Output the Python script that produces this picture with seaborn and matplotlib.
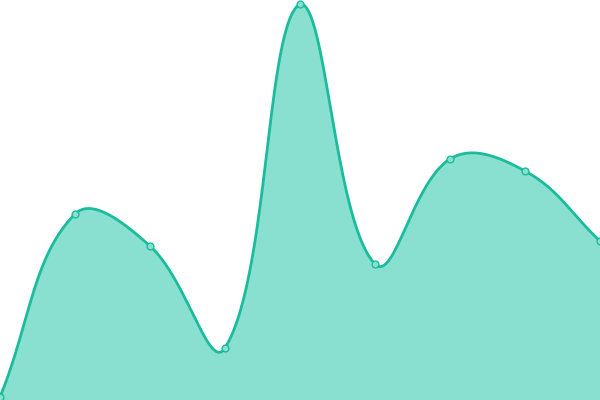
import numpy as np
import pandas as pd
import matplotlib
matplotlib.use("Agg")
import matplotlib.pyplot as plt
import seaborn as sns

# data (9 evenly spaced points)
x_vals = [0, 1, 2, 3, 4, 5, 6, 7, 8]
y_vals = [3, 186, 154, 52, 396, 136, 241, 229, 159]

LINE_COLOR = "#1abc9c"
FILL_COLOR = "#8ae0d0"
TENSION = 0.4
X_STEP_PX = 75.0  # one x step is 75 px wide, one y unit is 1 px


def spline_curve(xs, ys, tension=0.4, steps=60):
    # distance-weighted bezier smoothing (done in pixel space)
    px = np.asarray(xs, float) * X_STEP_PX
    py = np.asarray(ys, float)
    n = len(px)
    cp_prev = np.zeros((n, 2))
    cp_next = np.zeros((n, 2))
    for i in range(n):
        cur = np.array([px[i], py[i]])
        prev = np.array([px[max(i - 1, 0)], py[max(i - 1, 0)]])
        nxt = np.array([px[min(i + 1, n - 1)], py[min(i + 1, n - 1)]])
        d01 = np.hypot(*(cur - prev))
        d12 = np.hypot(*(nxt - cur))
        tot = d01 + d12
        s01 = d01 / tot if tot else 0
        s12 = d12 / tot if tot else 0
        cp_prev[i] = cur - tension * s01 * (nxt - prev)
        cp_next[i] = cur + tension * s12 * (nxt - prev)
    # keep control points inside the plot area
    cp_prev[:, 0] = np.clip(cp_prev[:, 0], 0, 600)
    cp_next[:, 0] = np.clip(cp_next[:, 0], 0, 600)
    cp_prev[:, 1] = np.clip(cp_prev[:, 1], 0, 400)
    cp_next[:, 1] = np.clip(cp_next[:, 1], 0, 400)

    t = np.linspace(0, 1, steps, endpoint=False)[:, None]
    pts = []
    for i in range(n - 1):
        p0 = np.array([px[i], py[i]])
        p3 = np.array([px[i + 1], py[i + 1]])
        p1, p2 = cp_next[i], cp_prev[i + 1]
        b = ((1 - t) ** 3) * p0 + 3 * ((1 - t) ** 2) * t * p1 \
            + 3 * (1 - t) * t ** 2 * p2 + t ** 3 * p3
        pts.append(b)
    pts.append(np.array([[px[-1], py[-1]]]))
    pts = np.vstack(pts)
    return pts[:, 0] / X_STEP_PX, pts[:, 1]


sns.set_theme(style="white")

df = pd.DataFrame({"x": x_vals, "y": y_vals})
cx, cy = spline_curve(df["x"], df["y"], tension=TENSION)
curve = pd.DataFrame({"x": cx, "y": cy})

fig = plt.figure(figsize=(6, 4), dpi=100)
ax = fig.add_axes([0, 0, 1, 1])

ax.fill_between(curve["x"], curve["y"], 0, color=FILL_COLOR, linewidth=0)
sns.lineplot(data=curve, x="x", y="y", ax=ax, color=LINE_COLOR, linewidth=2.0, sort=False)
sns.scatterplot(data=df, x="x", y="y", ax=ax, s=24, color=FILL_COLOR,
                edgecolor=LINE_COLOR, linewidth=1.0, zorder=5, clip_on=False)

ax.set_xlim(0, 8)
ax.set_ylim(0, 400)
ax.set_axis_off()

fig.savefig("out.png", dpi=100)
